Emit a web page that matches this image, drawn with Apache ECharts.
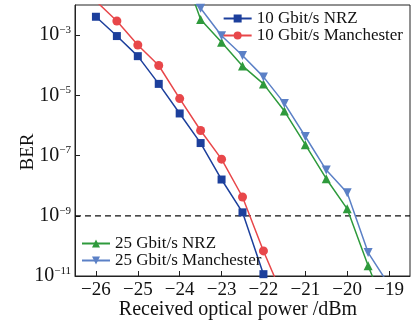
<!DOCTYPE html>
<html><head><meta charset="utf-8">
<script src="https://cdn.jsdelivr.net/npm/echarts@6/dist/echarts.min.js"></script>
<style>html,body{margin:0;padding:0;background:#fff}#c{width:411px;height:326px}</style>
</head><body><div id="c"></div>
<script>
const xNrz10 = [-26,-25.5,-25,-24.5,-24,-23.5,-23,-22.5,-22];
const berNrz10 = [4.07e-3,9.3e-4,2.0e-4,2.4e-5,2.5e-6,2.6e-7,1.6e-8,1.3e-9,1.15e-11];
const xMan10 = [-26,-25.5,-25,-24.5,-24,-23.5,-23,-22.5,-22,-21.5];
const berMan10 = [1.35e-2,2.95e-3,4.7e-4,9.8e-5,7.8e-6,6.8e-7,7.6e-8,4.2e-9,6.8e-11,1.6e-12];
const xNrz25 = [-24,-23.5,-23,-22.5,-22,-21.5,-21,-20.5,-20,-19.5,-19];
const berNrz25 = [0.3,3.3e-3,5.8e-4,9.5e-5,2.4e-5,3.0e-6,2.3e-7,1.7e-8,1.7e-9,2.2e-11,4e-13];
const xMan25 = [-24,-23.5,-23,-22.5,-22,-21.5,-21,-20.5,-20,-19.5,-19];
const berMan25 = [3.3e-2,7.8e-3,9.5e-4,2.1e-4,4.1e-5,5.4e-6,4.3e-7,3.3e-8,5.8e-9,6.0e-11,5e-12];
const xTicks = [-26,-25,-24,-23,-22,-21,-20,-19];
const yTicks = [1e-11,1e-9,1e-7,1e-5,1e-3];
const xRange = [-26.5, -18.5];
const yRange = [1e-11, 1e-2];
const threshold = 1e-9;
const names = ['10 Gbit/s NRZ','10 Gbit/s Manchester','25 Gbit/s NRZ','25 Gbit/s Manchester'];
const xTitle = 'Received optical power /dBm';
const yTitle = 'BER';

const FONT = '"Liberation Serif", "DejaVu Serif", serif';
const zip = (xs, ys) => xs.map((x, i) => [x, ys[i]]);
const chart = echarts.init(document.getElementById('c'));
function ser(name, xs, ys, color, symbol, size, rot) {
  return {
    name, type: 'line', data: zip(xs, ys), color,
    symbol, symbolSize: size, symbolRotate: rot || 0,
    lineStyle: { width: 1.5, color }, itemStyle: { color },
    clip: true, animation: false, z: 3
  };
}
chart.setOption({
  backgroundColor: '#ffffff',
  animation: false,
  textStyle: { fontFamily: FONT },
  grid: { left: 75, right: 1, top: 5, bottom: 50, outerBoundsMode: 'none', containLabel: false,
    show: true, borderColor: '#222', borderWidth: 1 },
  legend: [
    { data: [names[0], names[1]], orient: 'vertical', right: 3, top: 5, itemWidth: 28, itemHeight: 10, itemGap: 0,
      textStyle: { fontFamily: FONT, fontSize: 17, color: '#111' } },
    { data: [names[2], names[3]], orient: 'vertical', left: 76, top: 230, itemWidth: 28, itemHeight: 10, itemGap: 0,
      textStyle: { fontFamily: FONT, fontSize: 17, color: '#111' } }
  ],
  graphic: [{
    type: 'text', x: 28, y: 152, rotation: Math.PI / 2,
    style: { text: yTitle, font: '19px ' + FONT, fill: '#111', align: 'center', verticalAlign: 'middle' }
  }, {
    type: 'text', x: 238, y: 310,
    style: { text: xTitle, font: '20px ' + FONT, fill: '#111', align: 'center', verticalAlign: 'middle' }
  }],
  xAxis: {
    type: 'value', min: xRange[0], max: xRange[1],
    axisLine: { lineStyle: { color: '#222' } },
    axisTick: { inside: true, length: 5, customValues: xTicks, lineStyle: { color: '#222' } },
    axisLabel: { customValues: xTicks, fontFamily: FONT, fontSize: 19, color: '#111', margin: 5,
      formatter: v => (v < 0 ? '\u2212' + (-v) : '' + v) },
    splitLine: { show: false }
  },
  yAxis: {
    type: 'log', logBase: 10, min: yRange[0], max: yRange[1],
    axisLine: { lineStyle: { color: '#222' } },
    axisTick: { inside: true, length: 5, customValues: yTicks, lineStyle: { color: '#222' } },
    axisLabel: {
      customValues: yTicks, margin: 4,
      formatter: v => { const e = Math.round(Math.log10(v)); return '{b|10}{s|' + (e < 0 ? '\u2212' + (-e) : e) + '}'; },
      rich: {
        b: { fontFamily: FONT, fontSize: 20, color: '#111' },
        s: { fontFamily: FONT, fontSize: 11, color: '#111', padding: [0, 0, 10, 0] }
      }
    },
    splitLine: { show: false }
  },
  series: [
    {
      name: 'threshold', type: 'line', data: [[xRange[0], threshold], [xRange[1], threshold]],
      symbol: 'none', silent: true, z: 1,
      lineStyle: { type: [6, 4], color: '#111', width: 1.3 }
    },
    ser(names[0], xNrz10, berNrz10, '#1c3f9c', 'rect', 8),
    ser(names[1], xMan10, berMan10, '#e8474a', 'circle', 9),
    ser(names[2], xNrz25, berNrz25, '#2e9a3c', 'triangle', 9),
    ser(names[3], xMan25, berMan25, '#5b80c6', 'triangle', 9, 180)
  ]
});
</script></body></html>
